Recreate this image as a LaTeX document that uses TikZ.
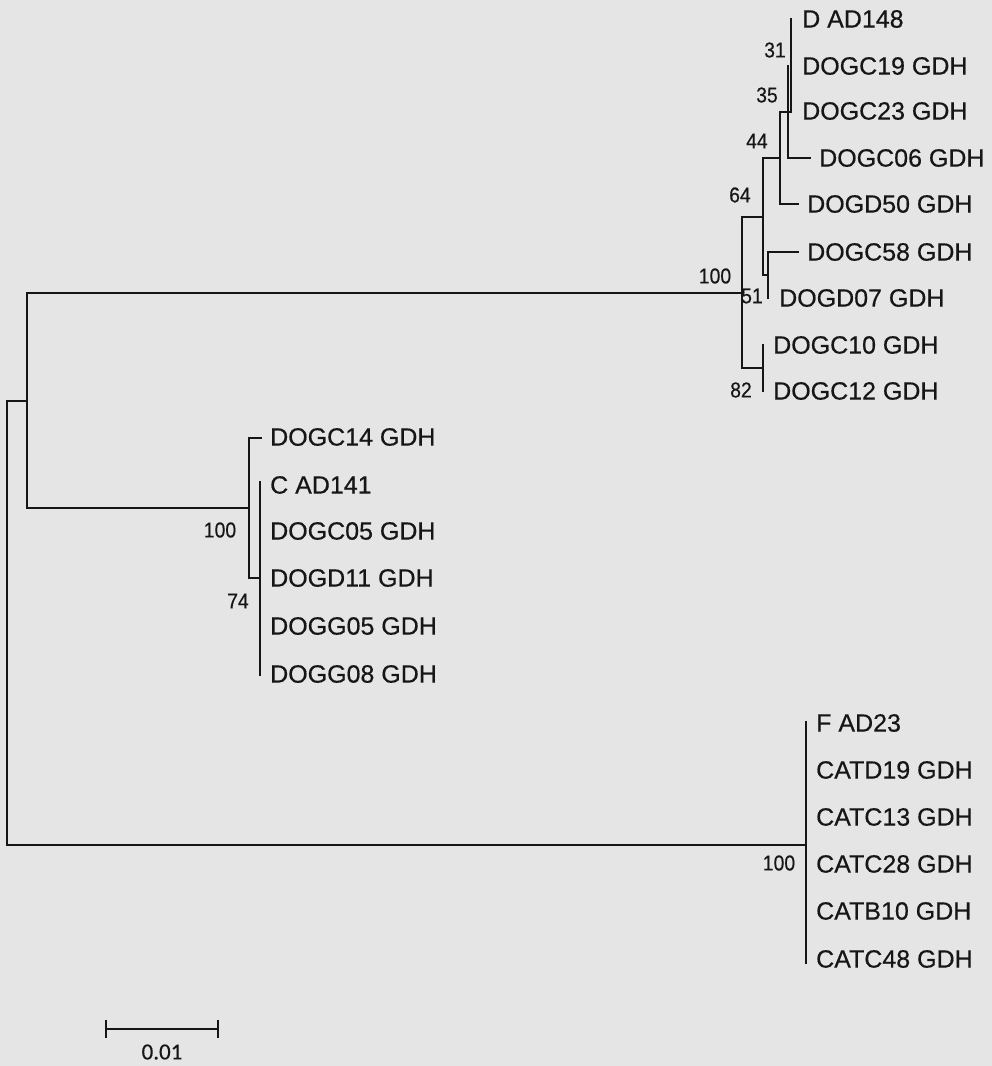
\documentclass[tikz,border=0pt]{standalone}
\usepackage{fontspec}
\setmainfont[FakeBold=0.35]{Liberation Sans}
\newfontfamily\leaffont[FakeBold=0.45]{Liberation Sans}
\newfontfamily\bsfont[FakeStretch=0.9,FakeBold=0.35]{Liberation Sans}
\newfontfamily\sbfont[FakeBold=0.3]{Carlito}
\definecolor{paper}{RGB}{229,229,229}
\definecolor{ink}{RGB}{22,22,22}
\begin{document}
\begin{tikzpicture}[x=1pt,y=-1pt,
  branch/.style={draw=ink,line width=2.7pt,line join=miter,line cap=rect},
  leaf/.style={anchor=west,inner sep=0pt,text=ink,font=\leaffont\fontsize{25}{26}\selectfont},
  boot/.style={inner sep=0pt,text=ink,font=\bsfont\fontsize{21.5}{22}\selectfont},
  sblabel/.style={inner sep=0pt,text=ink,font=\sbfont\fontsize{23}{24}\selectfont}]
\fill[paper] (0,0) rectangle (992,1066);
\useasboundingbox (0,0) rectangle (992,1066);

% ---------- D clade leaves ----------
\coordinate (tA) at (791,19);   \node[leaf] (lA) at (802,19)  {D AD148};
\coordinate (tB) at (791,66);   \node[leaf] (lB) at (802,66)  {DOGC19 GDH};
\coordinate (tC) at (791,112);  \node[leaf] (lC) at (802,111) {DOGC23 GDH};
\coordinate (tD) at (810,158);  \node[leaf] (lD) at (819,158) {DOGC06 GDH};
\coordinate (tE) at (798,204);  \node[leaf] (lE) at (807,204) {DOGD50 GDH};
\coordinate (tF) at (798,252);  \node[leaf] (lF) at (807,252) {DOGC58 GDH};
\coordinate (tG) at (768,298);  \node[leaf] (lG) at (779,298) {DOGD07 GDH};
\coordinate (tH) at (763,345);  \node[leaf] (lH) at (773,345) {DOGC10 GDH};
\coordinate (tI) at (763,391);  \node[leaf] (lI) at (773,391) {DOGC12 GDH};

% ---------- D clade internal nodes ----------
\coordinate (n44t) at (788,66);
\coordinate (n44b) at (788,158);
\coordinate (n64t) at (780,112);
\coordinate (n64b) at (780,204);
\coordinate (n64m) at (780,158);
\coordinate (nXt) at (763,158);
\coordinate (nXb) at (763,275);
\coordinate (nX)  at (763,217);
\coordinate (nYm) at (768,275);
\coordinate (nYt) at (768,252);
\coordinate (nRt) at (742,217);
\coordinate (nRm) at (742,293);
\coordinate (nRb) at (742,368);
\coordinate (nZ)  at (763,368);

\draw[branch] (tA) -- (tC) -- (n64t) -- (n64b) -- (tE);
\draw[branch] (n44t) -- (n44b) -- (tD);
\draw[branch] (n64m) -- (nXt) -- (nXb) -- (nYm);
\draw[branch] (tF) -- (nYt) -- (tG);
\draw[branch] (nX) -- (nRt) -- (nRb) -- (nZ);
\draw[branch] (tH) -- (tI);

% ---------- C clade ----------
\coordinate (cA) at (261,438);  \node[leaf] (mA) at (270,437) {DOGC14 GDH};
\coordinate (cB) at (260,482);  \node[leaf] (mB) at (270,485) {C AD141};
\coordinate (cC) at (260,531);  \node[leaf] (mC) at (270,531) {DOGC05 GDH};
\coordinate (cD) at (260,578);  \node[leaf] (mD) at (270,578) {DOGD11 GDH};
\coordinate (cE) at (260,626);  \node[leaf] (mE) at (270,626) {DOGG05 GDH};
\coordinate (cF) at (260,675);  \node[leaf] (mF) at (270,674) {DOGG08 GDH};
\coordinate (c100t) at (249,438);
\coordinate (c100m) at (249,508);
\coordinate (c100b) at (249,578);
\draw[branch] (cA) -- (c100t) -- (c100b) -- (cD);
\draw[branch] (cB) -- (cF);

% ---------- F clade ----------
\coordinate (fA) at (806,722);  \node[leaf] (gA) at (816,723) {F AD23};
\coordinate (fB) at (806,770);  \node[leaf] (gB) at (816,770) {CATD19 GDH};
\coordinate (fC) at (806,817);  \node[leaf] (gC) at (816,817) {CATC13 GDH};
\coordinate (fD) at (806,845);
\coordinate (fE) at (806,864);  \node[leaf] (gE) at (816,864) {CATC28 GDH};
\coordinate (fF) at (806,911);  \node[leaf] (gF) at (816,911) {CATB10 GDH};
\coordinate (fG) at (806,963);  \node[leaf] (gG) at (816,959) {CATC48 GDH};
\draw[branch] (fA) -- (fG);

% ---------- backbone ----------
\coordinate (iT) at (27,293);
\coordinate (iM) at (27,401);
\coordinate (iB) at (27,508);
\coordinate (rT) at (7,401);
\coordinate (rB) at (7,845);
\draw[branch] (nRm) -- (iT) -- (iB) -- (c100m);
\draw[branch] (iM) -- (rT) -- (rB) -- (fD);

% ---------- bootstrap values ----------
\node[boot] (b31)  at (775,50)  {31};
\node[boot] (b35)  at (767,95)  {35};
\node[boot] (b44)  at (757,141) {44};
\node[boot] (b64)  at (740,195) {64};
\node[boot] (b100a) at (715,276) {100};
\node[boot] (b51)  at (752,296) {51};
\node[boot] (b82)  at (741,390) {82};
\node[boot] (b100b) at (220,530) {100};
\node[boot] (b74)  at (238,601) {74};
\node[boot] (b100c) at (779,863) {100};

% ---------- scale bar ----------
\coordinate (sL) at (106,1029);
\coordinate (sR) at (218,1029);
\draw[branch,line width=2.4pt,line cap=butt] (sL) -- (sR);
\draw[branch,line width=2.4pt,line cap=butt] ([yshift=-9pt]sL) -- ([yshift=9pt]sL);
\draw[branch,line width=2.4pt,line cap=butt] ([yshift=-9pt]sR) -- ([yshift=9pt]sR);
\node[sblabel] (sLab) at (162,1052) {0.01};
\end{tikzpicture}
\end{document}
